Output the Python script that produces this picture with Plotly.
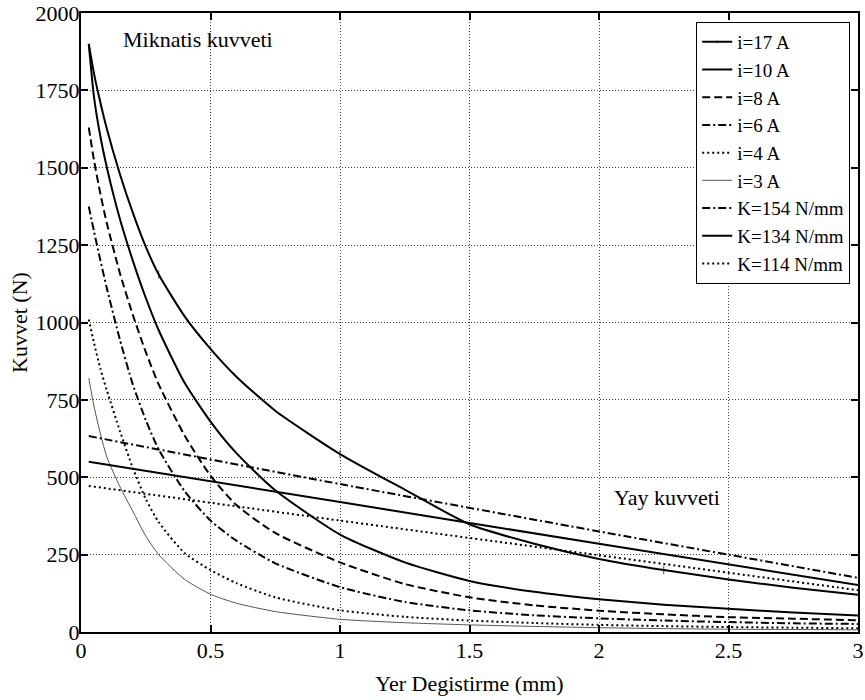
import plotly.graph_objects as go

# Displacement (mm) sample points for magnet force curves
x_pts = [0.03, 0.05, 0.075, 0.1, 0.15, 0.2, 0.25, 0.3, 0.4, 0.5, 0.6, 0.75,
         1.0, 1.25, 1.5, 1.75, 2.0, 2.25, 2.5, 2.75, 3.0]

# Magnet force (N) for each current
f_i17 = [1900, 1805, 1710, 1625, 1480, 1355, 1245, 1155, 1020, 915, 825, 715,
         575, 460, 348, 285, 236, 200, 170, 143, 120]
f_i10 = [1900, 1730, 1600, 1500, 1335, 1200, 1080, 975, 805, 680, 578, 458,
         315, 225, 165, 130, 106, 88, 75, 63, 53]
f_i8 = [1630, 1525, 1415, 1320, 1160, 1025, 905, 800, 635, 505, 410, 320,
        225, 155, 112, 86, 69, 57, 48, 43, 38]
f_i6 = [1375, 1295, 1200, 1110, 945, 800, 685, 590, 455, 360, 295, 222,
        145, 97, 70, 54, 44, 37, 32, 28, 26]
f_i4 = [1010, 935, 850, 780, 650, 530, 430, 355, 255, 200, 158, 112,
        70, 49, 37, 29, 23, 19, 16, 14, 12]
f_i3 = [820, 730, 640, 565, 470, 390, 310, 250, 170, 122, 93, 66,
        41, 30, 23, 18, 14, 11, 9, 8, 7]

# Spring force lines (N)
x_spring = [0.03, 1.0, 2.0, 3.0]
f_k154 = [633, 478, 325, 175]
f_k134 = [550, 420, 285, 152]
f_k114 = [472, 360, 248, 135]

labels = ["i=17 A", "i=10 A", "i=8 A", "i=6 A", "i=4 A", "i=3 A",
          "K=154 N/mm", "K=134 N/mm", "K=114 N/mm"]

x_ticks = [0, 0.5, 1, 1.5, 2, 2.5, 3]
y_ticks = [0, 250, 500, 750, 1000, 1250, 1500, 1750, 2000]

FONT = "Liberation Serif"
DASH = "8px,4px"
DASHDOT = "8px,3px,2px,3px"
DOT = "2px,3px"

fig = go.Figure()

def add(x, y, name, dash="solid", width=2, color="black", marker_every=None):
    kw = {}
    mode = "lines"
    if marker_every:
        mode = "lines+markers"
        sizes = [6 if (k % marker_every == 2) else 0 for k in range(len(x))]
        kw["marker"] = dict(symbol="line-ns-open", size=sizes, color=color,
                            line=dict(width=1, color=color))
    fig.add_trace(go.Scatter(
        x=x, y=y, name=name, mode=mode,
        line=dict(color=color, width=width, dash=dash, shape="spline", smoothing=0.6),
        **kw,
    ))

add(x_pts, f_i17, labels[0], marker_every=5)
add(x_pts, f_i10, labels[1])
add(x_pts, f_i8, labels[2], dash=DASH)
add(x_pts, f_i6, labels[3], dash=DASHDOT)
add(x_pts, f_i4, labels[4], dash=DOT)
add(x_pts, f_i3, labels[5], width=1, color="#555555")
add(x_spring, f_k154, labels[6], dash=DASHDOT)
add(x_spring, f_k134, labels[7])
add(x_spring, f_k114, labels[8], dash=DOT)

axis_common = dict(
    showline=True, linecolor="black", linewidth=2, mirror="ticks",
    ticks="inside", ticklen=7, tickwidth=2, tickcolor="black",
    showgrid=True, gridcolor="#444444", gridwidth=1, griddash="1px,2px",
    zeroline=False, automargin=False, ticklabeloverflow="allow",
    tickfont=dict(family=FONT, size=22, color="black"),
)

fig.update_xaxes(range=[0, 3], tickvals=x_ticks, ticktext=[str(v) for v in x_ticks],
                 ticklabelstandoff=-2,
                 title=dict(text="Yer Degistirme (mm)", font=dict(family=FONT, size=22, color="black"),
                            standoff=13),
                 **axis_common)
fig.update_yaxes(range=[0, 2000], tickvals=y_ticks, ticktext=[str(v) for v in y_ticks],
                 ticklabelstandoff=-5,
                 title=dict(text="Kuvvet (N)", font=dict(family=FONT, size=22, color="black"),
                            standoff=2),
                 **axis_common)

fig.add_annotation(x=0.453, y=1913, text="Miknatis kuvveti", showarrow=False,
                   font=dict(family=FONT, size=22, color="black"))
fig.add_annotation(x=2.262, y=436, text="Yay kuvveti", showarrow=False,
                   font=dict(family=FONT, size=22, color="black"))

fig.update_layout(
    width=865, height=700,
    margin=dict(l=81, r=7, t=13, b=68),
    paper_bgcolor="white", plot_bgcolor="white",
    font=dict(family=FONT, size=22, color="black"),
    showlegend=True,
    legend=dict(x=0.99, y=0.9855, xanchor="right", yanchor="top",
                bgcolor="white", bordercolor="black", borderwidth=1,
                font=dict(family=FONT, size=19, color="black"),
                tracegroupgap=0, itemwidth=30),
)

fig.write_html("out.html", config={"displayModeBar": False},
               post_script="document.body.style.margin='0px';")
